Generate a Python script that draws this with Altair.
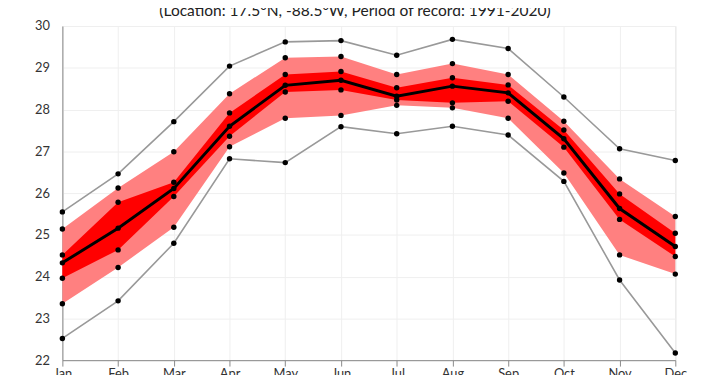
import altair as alt
import pandas as pd

months = ["Jan", "Feb", "Mar", "Apr", "May", "Jun", "Jul", "Aug", "Sep", "Oct", "Nov", "Dec"]
t_max  = [25.55, 26.46, 27.71, 29.04, 29.62, 29.65, 29.30, 29.68, 29.46, 28.30, 27.06, 26.78]
t_p90  = [25.14, 26.12, 26.99, 28.38, 29.24, 29.27, 28.84, 29.10, 28.84, 27.72, 26.34, 25.44]
t_p75  = [24.52, 25.78, 26.26, 27.92, 28.84, 28.91, 28.52, 28.76, 28.59, 27.51, 25.98, 25.04]
t_mean = [24.33, 25.16, 26.11, 27.60, 28.58, 28.70, 28.32, 28.56, 28.40, 27.30, 25.63, 24.72]
t_p25  = [23.96, 24.64, 25.92, 27.36, 28.42, 28.47, 28.23, 28.16, 28.20, 27.10, 25.37, 24.48]
t_p10  = [23.35, 24.22, 25.18, 27.11, 27.79, 27.86, 28.10, 28.04, 27.79, 26.48, 24.52, 24.06]
t_min  = [22.52, 23.42, 24.80, 26.82, 26.73, 27.59, 27.42, 27.60, 27.39, 26.28, 23.92, 22.17]
title_text = "(Location: 17.5°N, -88.5°W, Period of record: 1991-2020)"

FONT = "Lato"

wide = pd.DataFrame({
    "month": months,
    "max": t_max, "p90": t_p90, "p75": t_p75, "mean": t_mean,
    "p25": t_p25, "p10": t_p10, "min": t_min,
})
long = wide.melt(id_vars="month", var_name="stat", value_name="temp")

x_enc = alt.X("month:N", sort=months, scale=alt.Scale(type="point", padding=0),
              axis=alt.Axis(title=None, labelAngle=0, grid=True, gridColor="#efefef",
                            ticks=True, tickSize=6, tickColor="#8a8a8a",
                            domainColor="#8a8a8a", labelFont=FONT, labelFontSize=13,
                            labelColor="#333333", labelPadding=2))
y_scale = alt.Scale(domain=[22, 30], nice=False, zero=False)
y_axis = alt.Axis(title=None, values=list(range(22, 31)), grid=True, gridColor="#efefef",
                  ticks=False, domainColor="#8a8a8a", labelFont=FONT, labelFontSize=13,
                  labelColor="#333333", labelPadding=13)

base = alt.Chart(wide)

outer_band = base.mark_area(color="#ff8080", opacity=1).encode(
    x=x_enc,
    y=alt.Y("p10:Q", scale=y_scale, axis=y_axis),
    y2="p90:Q",
)
inner_band = base.mark_area(color="#ff0000", opacity=1).encode(
    x=alt.X("month:N", sort=months),
    y=alt.Y("p25:Q"),
    y2="p75:Q",
)
extremes = alt.Chart(long).transform_filter(
    alt.FieldOneOfPredicate(field="stat", oneOf=["max", "min"])
).mark_line(color="#999999", strokeWidth=1.6).encode(
    x=alt.X("month:N", sort=months),
    y="temp:Q",
    detail="stat:N",
)
mean_line = base.mark_line(color="black", strokeWidth=3).encode(
    x=alt.X("month:N", sort=months),
    y="mean:Q",
)
dots = alt.Chart(long).mark_circle(color="black", opacity=1, size=30).encode(
    x=alt.X("month:N", sort=months),
    y="temp:Q",
)
title = alt.Chart(pd.DataFrame({"t": [title_text]})).mark_text(
    font=FONT, fontSize=15.7, color="#222222", align="center", baseline="alphabetic"
).encode(
    text="t:N",
    x=alt.value(296),
    y=alt.value(-10),
)

chart = alt.layer(outer_band, inner_band, extremes, mean_line, dots, title).properties(
    width=620,
    height=338,
    autosize=alt.AutoSizeParams(type="none"),
    padding={"left": 55, "top": 16, "right": 27, "bottom": 30},
).configure_view(stroke="#666666", strokeWidth=1.2).configure(background="white")

chart.save("out.html", embed_options={"renderer": "svg", "actions": False})
